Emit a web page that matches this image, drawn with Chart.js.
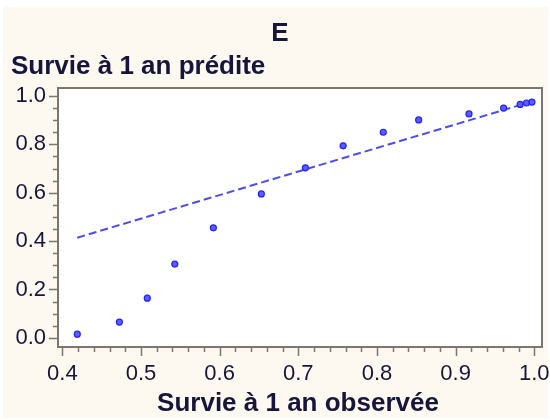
<!DOCTYPE html>
<html>
<head>
<meta charset="utf-8">
<script src="https://cdn.jsdelivr.net/npm/chart.js@4.4.1/dist/chart.umd.min.js"></script>
<style>
  html, body { margin: 0; padding: 0; background: #fff; }
  canvas { display: block; }
</style>
</head>
<body>
<canvas id="chartCalib" width="550" height="420"></canvas>
<script>
  // observed vs predicted 1-year survival
  const obsX = [0.419, 0.4725, 0.508, 0.543, 0.592, 0.653, 0.709, 0.757, 0.808, 0.853, 0.917, 0.961, 0.982, 0.990, 0.997];
  const predY = [0.015, 0.065, 0.164, 0.305, 0.455, 0.595, 0.703, 0.794, 0.850, 0.901, 0.926, 0.950, 0.965, 0.971, 0.975];
  // fitted line end points
  const fitX = [0.419, 0.997];
  const fitY = [0.414, 0.977];
  const xTicks = [0.4, 0.5, 0.6, 0.7, 0.8, 0.9, 1.0];
  const yTicks = [0.0, 0.2, 0.4, 0.6, 0.8, 1.0];

  const TXT = '#16163a';
  const FRAME = '#7d766a';

  const decor = {
    id: 'decor',
    beforeDraw(chart) {
      const c = chart.ctx;
      c.save();
      c.fillStyle = '#fdf9f1';
      c.fillRect(3, 7, 545, 411);
      const a = chart.chartArea;
      c.fillStyle = '#fff';
      c.fillRect(a.left, a.top, a.right - a.left, a.bottom - a.top);
      c.restore();
    },
    afterDraw(chart) {
      const c = chart.ctx, a = chart.chartArea;
      const xs = chart.scales.x, ys = chart.scales.y;
      c.save();
      c.strokeStyle = FRAME;
      c.lineWidth = 2;
      c.strokeRect(a.left, a.top, a.right - a.left, a.bottom - a.top);
      c.lineWidth = 1.5;
      c.beginPath();
      for (let i = 0; i <= 30; i++) {
        const v = 0.4 + i * 0.02;
        const px = Math.round(xs.getPixelForValue(v)) + 0.5;
        const len = i % 5 === 0 ? 9 : 5;
        c.moveTo(px, a.bottom); c.lineTo(px, a.bottom + len);
      }
      for (let i = 0; i <= 20; i++) {
        const v = i * 0.05;
        const py = Math.round(ys.getPixelForValue(v)) + 0.5;
        const len = i % 4 === 0 ? 9 : 5;
        c.moveTo(a.left, py); c.lineTo(a.left - len, py);
      }
      c.stroke();

      c.fillStyle = TXT;
      c.font = 'bold 26px "Liberation Sans", Arial, sans-serif';
      c.textBaseline = 'alphabetic';
      c.textAlign = 'center';
      c.fillText('E', 280, 41);
      c.fillText('Survie à 1 an observée', 298, 411);
      c.textAlign = 'left';
      c.fillText('Survie à 1 an prédite', 11, 74);
      c.restore();
    }
  };

  const tickFont = { family: '"Liberation Sans", Arial, sans-serif', size: 22 };

  new Chart(document.getElementById('chartCalib'), {
    type: 'scatter',
    data: {
      datasets: [
        {
          data: obsX.map((x, i) => ({ x, y: predY[i] })),
          pointRadius: 3, pointBackgroundColor: '#5c5cff', pointBorderColor: '#2222ff', pointBorderWidth: 1.2
        },
        {
          data: fitX.map((x, i) => ({ x, y: fitY[i] })),
          showLine: true, pointRadius: 0, borderColor: '#4c4cf0', borderWidth: 2, borderDash: [8, 4]
        }
      ]
    },
    options: {
      responsive: false, animation: false,
      layout: { padding: { top: 88, right: 8, left: 0, bottom: 0 } },
      plugins: { legend: { display: false }, tooltip: { enabled: false } },
      scales: {
        x: {
          type: 'linear', min: 0.3945, max: 1.0098,
          grid: { color: 'transparent', drawOnChartArea: false, tickLength: 9 },
          border: { display: false },
          afterBuildTicks: s => { s.ticks = xTicks.map(v => ({ value: v })); },
          afterFit: s => { s.height = 73; s.paddingLeft = 0; s.paddingRight = 0; },
          ticks: { color: TXT, font: tickFont, padding: 5, maxRotation: 0, autoSkip: false, callback: v => v.toFixed(1) }
        },
        y: {
          type: 'linear', min: -0.038, max: 1.033,
          grid: { color: 'transparent', drawOnChartArea: false, tickLength: 9 },
          border: { display: false },
          afterBuildTicks: s => { s.ticks = yTicks.map(v => ({ value: v })); },
          afterFit: s => { s.width = 58; s.paddingTop = 0; s.paddingBottom = 0; },
          ticks: { color: TXT, font: tickFont, padding: 3, autoSkip: false, callback: v => v.toFixed(1) }
        }
      }
    },
    plugins: [decor]
  });
</script>
</body>
</html>
